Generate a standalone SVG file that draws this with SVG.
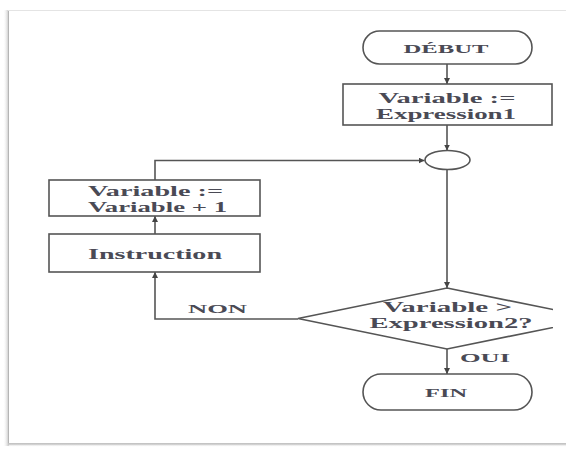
<svg xmlns="http://www.w3.org/2000/svg" width="566" height="449" viewBox="0 0 566 449">
  <defs>
    <style>
      .shape { fill: #ffffff; stroke: #555555; stroke-width: 1.6; }
      .wire { fill: none; stroke: #555555; stroke-width: 1.6; }
      .lbl { font-family: "Liberation Serif", "Times New Roman", serif; font-weight: bold; fill: #4a4a55; text-anchor: middle; }
      .big { font-size: 14px; }
      .small { font-size: 13px; }
    </style>
    <marker id="arrow" viewBox="0 0 10 10" refX="10" refY="5" markerWidth="6" markerHeight="6" markerUnits="userSpaceOnUse" orient="auto">
      <path d="M0,0 L10,5 L0,10 z" fill="#444444"/>
    </marker>
    <linearGradient id="edgeShade" x1="0" y1="0" x2="1" y2="0">
      <stop offset="0" stop-color="#ffffff" stop-opacity="0"/>
      <stop offset="1" stop-color="#bdbdbd"/>
    </linearGradient>
    <linearGradient id="baseShade" x1="0" y1="0" x2="0" y2="1">
      <stop offset="0" stop-color="#bdbdbd"/>
      <stop offset="1" stop-color="#ffffff" stop-opacity="0"/>
    </linearGradient>
    <clipPath id="sheet">
      <rect x="0" y="0" width="553" height="449"/>
    </clipPath>
  </defs>

  <!-- page frame -->
  <g id="frame">
    <rect x="0" y="0" width="566" height="449" fill="#ffffff"/>
    <rect x="3" y="10" width="6" height="436" fill="url(#edgeShade)"/>
    <line x1="8.5" y1="10" x2="8.5" y2="444" stroke="#b5b5b5" stroke-width="1"/>
    <line x1="8" y1="10.5" x2="566" y2="10.5" stroke="#e4e4e4" stroke-width="1"/>
    <rect x="8" y="444" width="558" height="3" fill="url(#baseShade)"/>
    <line x1="8" y1="443.5" x2="566" y2="443.5" stroke="#c4c4c4" stroke-width="1"/>
  </g>

  <!-- connectors -->
  <g id="connectors" class="wire">
    <line x1="447" y1="64" x2="447" y2="84" marker-end="url(#arrow)"/>
    <line x1="447" y1="125" x2="447" y2="150.5" marker-end="url(#arrow)"/>
    <line x1="447" y1="169.5" x2="447" y2="288" marker-end="url(#arrow)"/>
    <line x1="447" y1="349" x2="447" y2="374" marker-end="url(#arrow)"/>
    <polyline points="298,319 155,319 155,272" marker-end="url(#arrow)"/>
    <line x1="155" y1="234" x2="155" y2="216" marker-end="url(#arrow)"/>
    <polyline points="155,180 155,160.5 424.5,160.5" marker-end="url(#arrow)"/>
  </g>

  <g id="debut">
    <rect class="shape" x="363" y="31" width="169" height="33" rx="16.5" ry="16.5"/>
    <text class="lbl small" x="446" y="53" textLength="85" lengthAdjust="spacingAndGlyphs">DÉBUT</text>
  </g>

  <g id="init">
    <rect class="shape" x="343" y="84" width="209" height="41"/>
    <text class="lbl big" x="447" y="103" textLength="137" lengthAdjust="spacingAndGlyphs">Variable :=</text>
    <text class="lbl big" x="446" y="118.5" textLength="140" lengthAdjust="spacingAndGlyphs">Expression1</text>
  </g>

  <g id="junction">
    <ellipse class="shape" cx="447.5" cy="160" rx="22.5" ry="9.5"/>
  </g>

  <g id="increment">
    <rect class="shape" x="49" y="180" width="211" height="36"/>
    <text class="lbl big" x="155.5" y="196" textLength="135" lengthAdjust="spacingAndGlyphs">Variable :=</text>
    <text class="lbl big" x="157.5" y="211.5" textLength="139" lengthAdjust="spacingAndGlyphs">Variable + 1</text>
  </g>

  <g id="instruction">
    <rect class="shape" x="49" y="234" width="211" height="38"/>
    <text class="lbl big" x="155" y="258.5" textLength="134" lengthAdjust="spacingAndGlyphs">Instruction</text>
  </g>

  <g id="test">
    <polygon class="shape" clip-path="url(#sheet)" points="447,288 597,318.5 447,349 298,318.5"/>
    <text class="lbl big" x="447.5" y="312" textLength="129" lengthAdjust="spacingAndGlyphs">Variable &gt;</text>
    <text class="lbl big" x="451" y="328" textLength="163" lengthAdjust="spacingAndGlyphs">Expression2?</text>
  </g>

  <g id="fin">
    <rect class="shape" x="363" y="374" width="169" height="36" rx="18" ry="18"/>
    <text class="lbl small" x="446" y="397" textLength="42" lengthAdjust="spacingAndGlyphs">FIN</text>
  </g>

  <g id="labels">
    <text class="lbl small" x="217.5" y="313" textLength="59" lengthAdjust="spacingAndGlyphs">NON</text>
    <text class="lbl small" x="485" y="362" textLength="50" lengthAdjust="spacingAndGlyphs">OUI</text>
  </g>
</svg>
